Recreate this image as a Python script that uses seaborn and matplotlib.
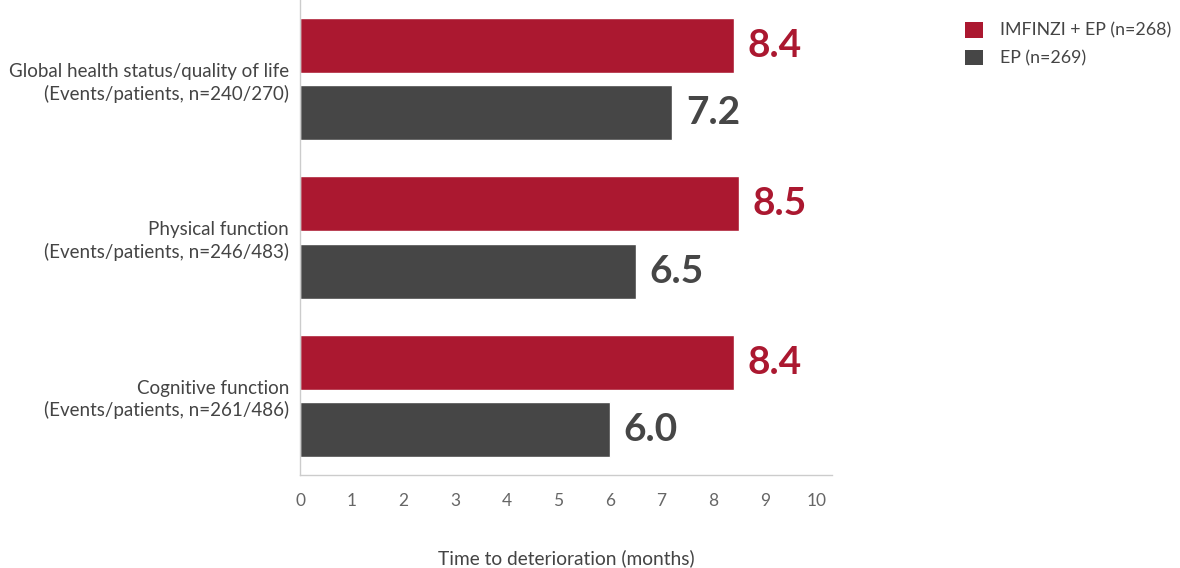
import matplotlib
matplotlib.use("Agg")
import matplotlib.pyplot as plt
import seaborn as sns
import pandas as pd
from matplotlib.patches import Patch

categories = ["Global health status/quality of life\n(Events/patients, n=240/270)",
              "Physical function\n(Events/patients, n=246/483)",
              "Cognitive function\n(Events/patients, n=261/486)"]
series = ["IMFINZI + EP (n=268)", "EP (n=269)"]
imfinzi_values = [8.4, 8.5, 8.4]
ep_values = [7.2, 6.5, 6.0]
x_ticks = [0, 1, 2, 3, 4, 5, 6, 7, 8, 9, 10]
x_label = "Time to deterioration (months)"

colors = ["#AB1830", "#464646"]

df = pd.DataFrame({
    "category": categories * 2,
    "series": [series[0]] * 3 + [series[1]] * 3,
    "value": imfinzi_values + ep_values,
})

sns.set_theme(style="white")
plt.rcParams["font.family"] = ["Lato", "DejaVu Sans"]

fig = plt.figure(figsize=(11.8, 5.68), dpi=100)
ax = fig.add_axes([300 / 1180, 93 / 568, 532 / 1180, 475 / 568])

sns.barplot(data=df, y="category", x="value", hue="series", orient="h",
            palette=colors, width=0.848, gap=0.18, ax=ax, legend=False,
            saturation=1)

ax.set_xlim(0, 10.3)
ax.set_ylim(2.5, -0.5)
ax.set_xticks(x_ticks)
ax.set_xticklabels([str(t) for t in x_ticks], fontsize=12.5, color="#666666",
                   fontweight="normal")
ax.tick_params(axis="x", length=0, pad=13)
ax.tick_params(axis="y", length=0, pad=8)
for lbl in ax.get_yticklabels():
    lbl.set_fontsize(13.5)
    lbl.set_color("#444444")
    lbl.set_horizontalalignment("right")
    lbl.set_linespacing(1.3)
ax.set_ylabel("")
ax.set_xlabel(x_label, fontsize=13.8, color="#444444", labelpad=29)

for side in ["top", "right"]:
    ax.spines[side].set_visible(False)
for side in ["left", "bottom"]:
    ax.spines[side].set_color("#cccccc")
    ax.spines[side].set_linewidth(1)

for container, col in zip(ax.containers, colors):
    ax.bar_label(container, labels=[f"{v:.1f}" for v in container.datavalues],
                 padding=10, fontsize=28, fontweight="bold", color=col)

handles = [Patch(facecolor=c, edgecolor="none") for c in colors]
fig.legend(handles, series, loc="upper left", bbox_to_anchor=(949 / 1180, 1 - 6 / 568),
           frameon=False, fontsize=12.75, handlelength=1.0, handleheight=1.0,
           handletextpad=1.0, labelspacing=0.6, labelcolor="#444444")

fig.savefig("out.png", dpi=100)
